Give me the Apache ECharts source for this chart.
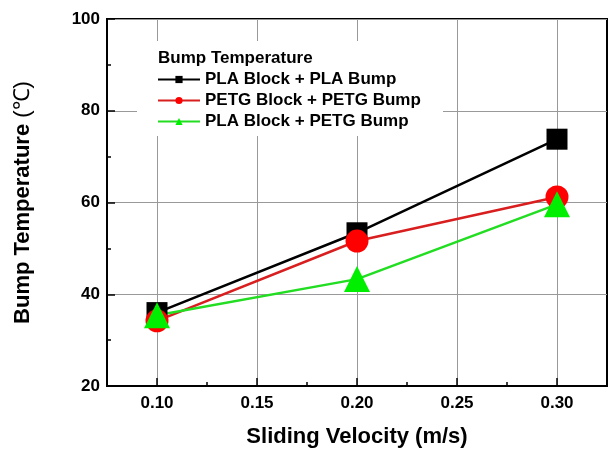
<!DOCTYPE html>
<html>
<head>
<meta charset="utf-8">
<script src="https://cdn.jsdelivr.net/npm/echarts@6/dist/echarts.min.js"></script>
<style>html,body{margin:0;padding:0;background:#fff}#c{width:611px;height:453px}</style>
</head>
<body>
<div id="c"></div>
<script>
const velocities = [0.10, 0.20, 0.30];
const plaPla = [36.0, 53.4, 73.8];
const petgPetg = [34.2, 51.6, 61.2];
const plaPetg = [35.4, 43.3, 59.6];
const seriesNames = ['PLA Block + PLA Bump', 'PETG Block + PETG Bump', 'PLA Block + PETG Bump'];
const xTickLabels = [0.10, 0.15, 0.20, 0.25, 0.30];
const yTickLabels = [20, 40, 60, 80, 100];

const font = '"Liberation Sans", Arial, sans-serif';
const pair = (xs, ys) => xs.map((x, i) => [x, ys[i]]);

const chart = echarts.init(document.getElementById('c'));
chart.setOption({
  animation: false,
  backgroundColor: '#fff',
  grid: { left: 107, right: 4, top: 19, bottom: 64, show: true, borderColor: '#000', borderWidth: 2, backgroundColor: '#fff' },
  title: {
    text: 'Bump Temperature', left: 158, top: 50, padding: 0,
    textStyle: { fontFamily: font, fontWeight: 'bold', fontSize: 17, color: '#000' }
  },
  graphic: [{ type: 'rect', z: 1, shape: { x: 137, y: 41, width: 306, height: 95 }, style: { fill: '#fff' } }],
  legend: {
    orient: 'vertical', left: 157, top: 71, padding: 0, itemGap: 4,
    itemWidth: 42, itemHeight: 9,
    textStyle: { fontFamily: font, fontWeight: 'bold', fontSize: 17, color: '#000' },
    data: seriesNames
  },
  xAxis: {
    type: 'value', min: 0.075, max: 0.325, interval: 0.05,
    name: 'Sliding Velocity (m/s)', nameLocation: 'middle', nameGap: 40,
    nameTextStyle: { fontFamily: font, fontWeight: 'bold', fontSize: 22, color: '#000' },
    axisLine: { lineStyle: { color: '#000', width: 2 } },
    axisTick: { inside: true, length: 4, lineStyle: { color: '#000', width: 1.5 } },
    minorTick: { show: true, splitNumber: 2, length: 8, lineStyle: { color: '#000', width: 1.5 } },
    splitLine: { show: false },
    minorSplitLine: { show: true, lineStyle: { color: '#999', width: 1 } },
    axisLabel: {
      customValues: xTickLabels, margin: 9, color: '#000',
      fontFamily: font, fontWeight: 'bold', fontSize: 17,
      formatter: v => v.toFixed(2)
    }
  },
  yAxis: {
    type: 'value', min: 20, max: 100, interval: 20,
    name: '{b|Bump Temperature }{n|(℃)}', nameLocation: 'middle', nameGap: 73,
    nameTextStyle: {
      color: '#000',
      rich: {
        b: { fontFamily: font, fontWeight: 'bold', fontSize: 22, color: '#000' },
        n: { fontFamily: font, fontWeight: 'normal', fontSize: 22, color: '#000' }
      }
    },
    axisLine: { lineStyle: { color: '#000', width: 2 } },
    axisTick: { inside: true, length: 8, lineStyle: { color: '#000', width: 1.5 } },
    minorTick: { show: true, splitNumber: 2, length: 4, lineStyle: { color: '#000', width: 1.5 } },
    splitLine: { show: true, lineStyle: { color: '#999', width: 1 } },
    axisLabel: {
      margin: 7, color: '#000', fontFamily: font, fontWeight: 'bold', fontSize: 17,
      formatter: v => yTickLabels.includes(v) ? String(v) : ''
    }
  },
  series: [
    {
      name: seriesNames[0], type: 'line', data: pair(velocities, plaPla),
      symbol: 'rect', symbolSize: 21,
      itemStyle: { color: '#000' }, lineStyle: { color: '#000', width: 2.5 }
    },
    {
      name: seriesNames[1], type: 'line', data: pair(velocities, petgPetg),
      symbol: 'circle', symbolSize: 23,
      itemStyle: { color: '#ff0000' }, lineStyle: { color: '#d81e1e', width: 2.5 }
    },
    {
      name: seriesNames[2], type: 'line', data: pair(velocities, plaPetg),
      symbol: 'triangle', symbolSize: 26,
      itemStyle: { color: '#00ee00' }, lineStyle: { color: '#22dd22', width: 2.5 }
    }
  ]
});
</script>
</body>
</html>
